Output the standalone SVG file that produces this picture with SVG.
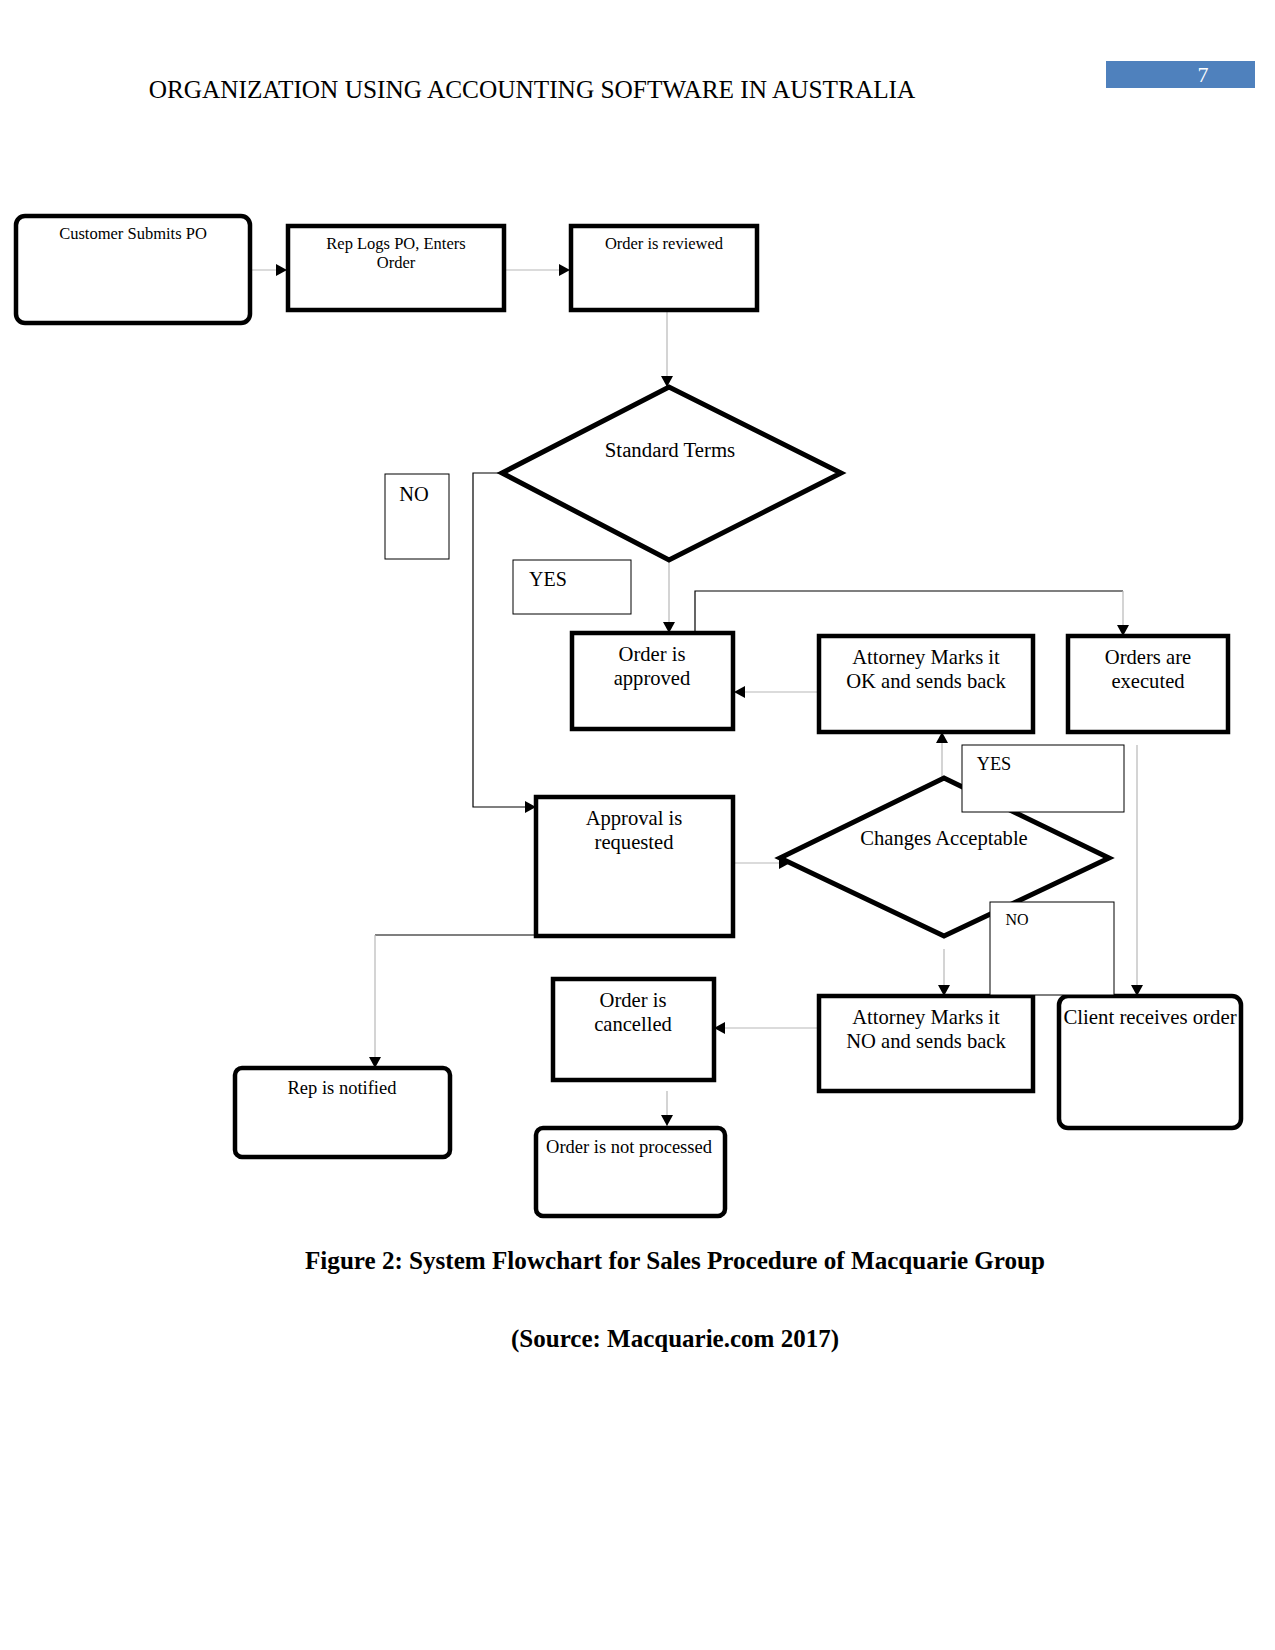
<svg xmlns="http://www.w3.org/2000/svg" width="1275" height="1650" viewBox="0 0 1275 1650">
<defs>
<marker id="arr" markerUnits="userSpaceOnUse" markerWidth="12" markerHeight="12" refX="11" refY="6" orient="auto">
<path d="M0,0 L11,6 L0,12 z" fill="#000"/>
</marker>
<style>
.t{font-family:"Liberation Serif","Times New Roman",serif;fill:#000;text-anchor:middle}
.box{fill:#fff;stroke:#000;stroke-width:4.5}
.dia{fill:#fff;stroke:#000;stroke-width:5}
.lbl{fill:#fff;stroke:#000;stroke-width:1}
.cg{fill:none;stroke:#b8b8b8;stroke-width:1.2}
.cb{fill:none;stroke:#000;stroke-width:1.2}
</style>
</defs>
<rect width="1275" height="1650" fill="#fff"/>
<g id="header">
<text x="532" y="98" class="t" font-size="25.3">ORGANIZATION USING ACCOUNTING SOFTWARE IN AUSTRALIA</text>
<rect x="1106" y="61" width="149" height="27" fill="#4F81BD"/>
<text x="1203" y="82" class="t" font-size="22" style="fill:#fff">7</text>
</g>
<g id="connectors">
<path class="cg" d="M250,270 H287" marker-end="url(#arr)"/>
<path class="cg" d="M504,270 H570" marker-end="url(#arr)"/>
<path class="cg" d="M667,310 V387" marker-end="url(#arr)"/>
<path class="cb" d="M502,473 H473 V807 H536" marker-end="url(#arr)"/>
<path class="cg" d="M669,560 V633" marker-end="url(#arr)"/>
<path class="cg" d="M818,692 H734" marker-end="url(#arr)"/>
<path class="cb" d="M695,633 V591 H1123"/>
<path class="cg" d="M1123,591 V636" marker-end="url(#arr)"/>
<path class="cg" d="M733,863 H790" marker-end="url(#arr)"/>
<path class="cg" d="M942,778 V732" marker-end="url(#arr)"/>
<path class="cg" d="M944,949 V996" marker-end="url(#arr)"/>
<path class="cg" d="M818,1028 H714" marker-end="url(#arr)"/>
<path class="cg" d="M1137,745 V996" marker-end="url(#arr)"/>
<path class="cg" d="M667,1091 V1126" marker-end="url(#arr)"/>
<path class="cb" d="M535,935 H375"/>
<path class="cg" d="M375,935 V1068" marker-end="url(#arr)"/>
</g>
<g id="n1"><rect class="box" x="16" y="216" width="234" height="107" rx="9"/><text x="133" y="239" class="t" font-size="16.5">Customer Submits PO</text></g>
<g id="n2"><rect class="box" x="288" y="226" width="216" height="84"/><text x="396" y="249" class="t" font-size="16.5">Rep Logs PO, Enters</text><text x="396" y="268" class="t" font-size="16.5">Order</text></g>
<g id="n3"><rect class="box" x="571" y="226" width="186" height="84"/><text x="664" y="249" class="t" font-size="16.5">Order is reviewed</text></g>
<g id="d1"><polygon class="dia" points="502,473 669,387 841,473 669,560"/><text x="670" y="457" class="t" font-size="20.8">Standard Terms</text></g>
<g id="n4"><rect class="box" x="572" y="633" width="161" height="96"/><text x="652" y="661" class="t" font-size="20.6">Order is</text><text x="652" y="685" class="t" font-size="20.6">approved</text></g>
<g id="n5"><rect class="box" x="819" y="636" width="214" height="96"/><text x="926" y="664" class="t" font-size="20.6">Attorney Marks it</text><text x="926" y="688" class="t" font-size="20.6">OK and sends back</text></g>
<g id="n6"><rect class="box" x="1068" y="636" width="160" height="96"/><text x="1148" y="664" class="t" font-size="20.6">Orders are</text><text x="1148" y="688" class="t" font-size="20.6">executed</text></g>
<g id="n7"><rect class="box" x="536" y="797" width="197" height="139"/><text x="634" y="825" class="t" font-size="20.6">Approval is</text><text x="634" y="849" class="t" font-size="20.6">requested</text></g>
<g id="d2"><polygon class="dia" points="780,858 944,778 1109,858 944,936"/><text x="944" y="845" class="t" font-size="20.6">Changes Acceptable</text></g>
<g id="n8"><rect class="box" x="553" y="979" width="161" height="101"/><text x="633" y="1007" class="t" font-size="20.6">Order is</text><text x="633" y="1031" class="t" font-size="20.6">cancelled</text></g>
<g id="n9"><rect class="box" x="819" y="996" width="214" height="95"/><text x="926" y="1024" class="t" font-size="20.6">Attorney Marks it</text><text x="926" y="1048" class="t" font-size="20.6">NO and sends back</text></g>
<g id="n10"><rect class="box" x="1059" y="996" width="182" height="132" rx="9"/><text x="1150" y="1024" class="t" font-size="20.8">Client receives order</text></g>
<g id="n11"><rect class="box" x="235" y="1068" width="215" height="89" rx="7"/><text x="342" y="1094" class="t" font-size="18.5">Rep is notified</text></g>
<g id="n12"><rect class="box" x="536" y="1128" width="189" height="88" rx="7"/><text x="629" y="1153" class="t" font-size="18.5">Order is not processed</text></g>
<g id="labels">
<rect class="lbl" x="385" y="474" width="64" height="85"/><text x="414" y="501" class="t" font-size="20.4">NO</text>
<rect class="lbl" x="513" y="560" width="118" height="54"/><text x="548" y="586" class="t" font-size="20">YES</text>
<rect class="lbl" x="962" y="745" width="162" height="67"/><text x="994" y="770" class="t" font-size="18.3">YES</text>
<rect class="lbl" x="990" y="902" width="124" height="93"/><text x="1017" y="925" class="t" font-size="16">NO</text>
</g>
<g id="caption">
<text x="675" y="1269" class="t" font-size="25.1" font-weight="bold">Figure 2: System Flowchart for Sales Procedure of Macquarie Group</text>
<text x="675" y="1347" class="t" font-size="25" font-weight="bold">(Source: Macquarie.com 2017)</text>
</g>
</svg>
